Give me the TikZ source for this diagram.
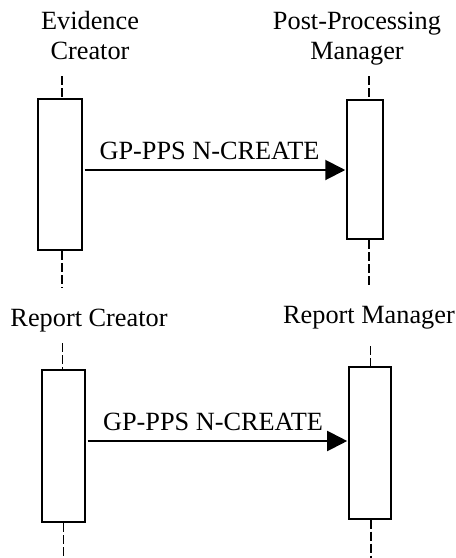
\documentclass[tikz,border=0pt]{standalone}
\usepackage{fontspec}
\setmainfont{Liberation Serif}
\usetikzlibrary{arrows.meta}
\begin{document}
\begin{tikzpicture}[x=1pt,y=-1pt,
  bar/.style={draw, line width=2pt, fill=white, inner sep=0pt},
  life/.style={line width=1.5pt, dash pattern=on 9pt off 3pt},
  msg/.style={line width=2pt, -{Triangle[length=20pt,width=20pt]}},
  lbl/.style={font=\fontsize{26.3}{30}\selectfont, inner sep=0pt, align=center, anchor=base},
]
\useasboundingbox (0,0) rectangle (456,558);

% ---- top diagram ----
\node[lbl] (ecl) at (90,59) {Evidence\\Creator};
\node[lbl] (ppml) at (357,59) {Post-Processing\\Manager};

\node[bar, minimum width=43.4pt, minimum height=151pt] (ec) at (60,174.5) {};
\node[bar, minimum width=36.3pt, minimum height=139.5pt] (ppm) at (364.9,169.7) {};

\coordinate (ecTop) at (62,76);
\coordinate (ecBot) at (62,288);
\coordinate (ppmTop) at (369,76);
\coordinate (ppmBot) at (369,288);
\draw[life] (ecTop) -- (ecTop |- ec.north);
\draw[life] (ecBot |- ec.south) -- (ecBot);
\draw[life] (ppmTop) -- (ppmTop |- ppm.north);
\draw[life] (ppmBot |- ppm.south) -- (ppmBot);

\coordinate (m1) at (0,170);
\draw[msg] ([xshift=2pt]ec.east |- m1) -- ([xshift=-0.5pt]ppm.west |- m1);
\node[lbl] (m1l) at (209.5,159) {GP-PPS N-CREATE};

% ---- bottom diagram ----
\node[lbl] (rcl) at (89,326) {Report Creator};
\node[lbl] (rml) at (369,323) {Report Manager};

\node[bar, minimum width=43pt, minimum height=152pt] (rc) at (63,446) {};
\node[bar, minimum width=42.6pt, minimum height=151.5pt] (rm) at (370,442.8) {};

\coordinate (rcTop) at (62.5,343);
\coordinate (rcBot) at (63.5,558);
\coordinate (rmTop) at (370.5,346);
\coordinate (rmBot) at (371,558);
\draw[life] (rcTop) -- (rcTop |- rc.north);
\draw[life] (rcBot |- rc.south) -- (rcBot);
\draw[life] (rmTop) -- (rmTop |- rm.north);
\draw[life] (rmBot |- rm.south) -- (rmBot);

\coordinate (m2) at (0,441);
\draw[msg] ([xshift=2pt]rc.east |- m2) -- ([xshift=-0.5pt]rm.west |- m2);
\node[lbl] (m2l) at (213,430) {GP-PPS N-CREATE};
\end{tikzpicture}
\end{document}
